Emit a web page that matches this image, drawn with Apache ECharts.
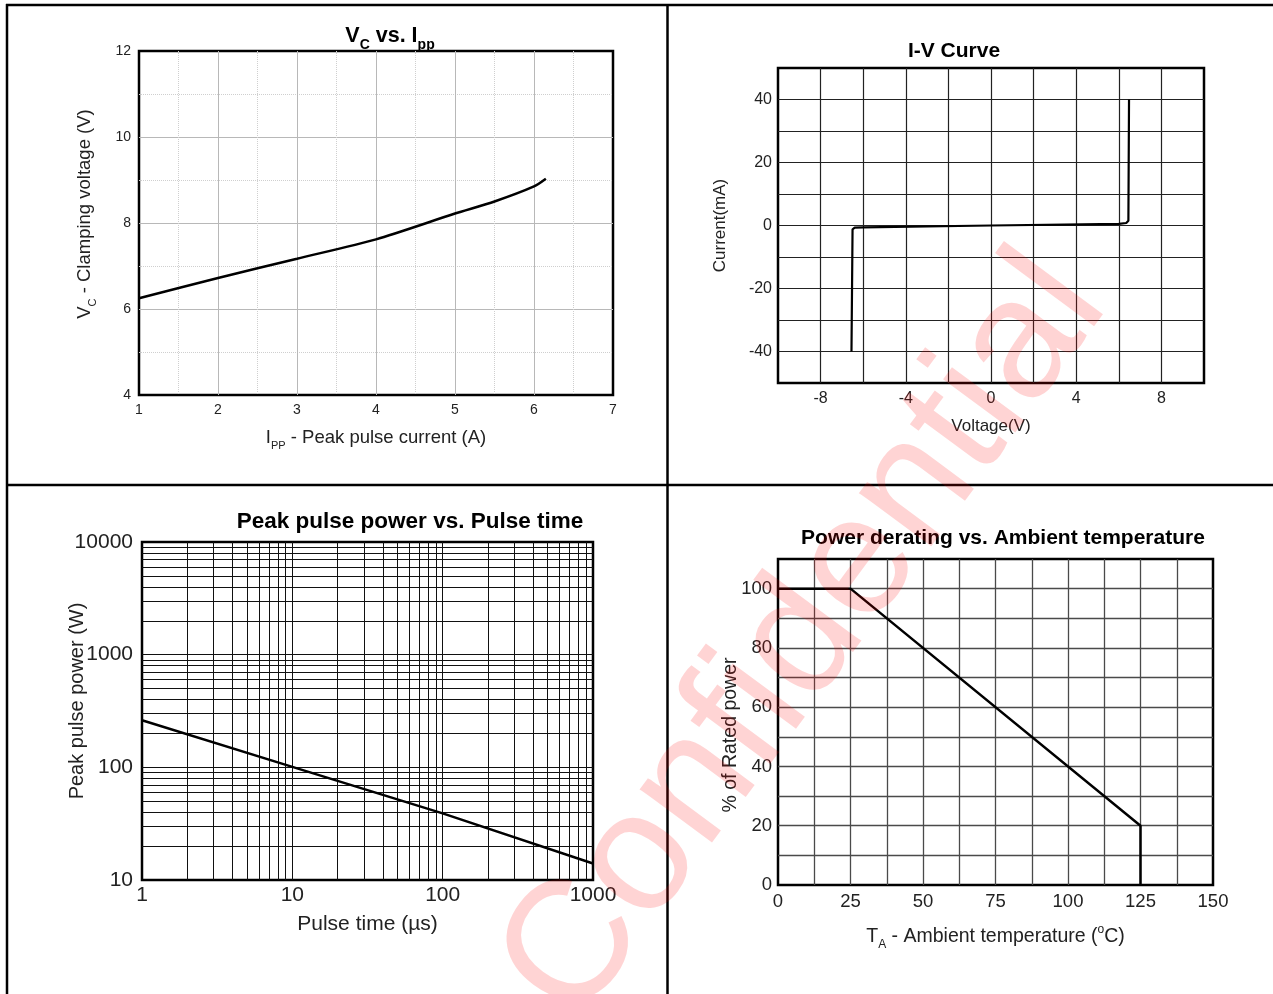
<!DOCTYPE html>
<html>
<head>
<meta charset="utf-8">
<script src="https://cdn.jsdelivr.net/npm/echarts@6/dist/echarts.min.js"></script>
<style>
html,body{margin:0;padding:0;background:#fff;}
#c{width:1273px;height:994px;}
</style>
</head>
<body>
<div id="c"></div>
<script>
// ---- Data ----
// Chart 1: Vc vs Ipp
const vcCurrent = [1, 2, 3, 4, 5, 5.5, 6, 6.15];
const vcVoltage = [6.25, 6.72, 7.17, 7.62, 8.22, 8.5, 8.85, 9.03];
// Chart 2: I-V curve
const ivVoltage = [-6.55, -6.5, -6.4, -6.0, 0, 6.0, 6.35, 6.45, 6.48];
const ivCurrent = [-40, -1.2, -0.7, -0.6, 0, 0.5, 0.8, 1.5, 40];
// Chart 3: Peak pulse power vs pulse time (log-log)
const ppTime = [1, 10, 100, 1000];
const ppPower = [262, 101, 39, 14];
const logMinorTime = [2,3,4,5,6,7,8,9,20,30,40,50,60,70,80,90,200,300,400,500,600,700,800,900];
const logMinorPower = [20,30,40,50,60,70,80,90,200,300,400,500,600,700,800,900,2000,3000,4000,5000,6000,7000,8000,9000];
// Chart 4: Power derating
const derTemp = [0, 25, 125, 125];
const derPower = [100, 100, 20, 0];

const FONT = '"Liberation Sans", Arial, sans-serif';
const zip = (a, b) => a.map((v, i) => [v, b[i]]);

const chart = echarts.init(document.getElementById('c'), null, {renderer: 'canvas'});

function axisBase(extra) {
  return Object.assign({
    type: 'value',
    axisLine: {show: false},
    axisTick: {show: false},
    nameLocation: 'middle',
    nameMoveOverlap: false
  }, extra);
}

const subRich = (fs, sub) => ({
  n: {fontSize: fs, color: '#222', fontFamily: FONT},
  s: {fontSize: sub, color: '#222', fontFamily: FONT, verticalAlign: 'bottom', padding: [0, 0, -4, 0]},
  u: {fontSize: sub, color: '#222', fontFamily: FONT, verticalAlign: 'top', padding: [-3, 0, 0, 0]}
});

const option = {
  animation: false,
  textStyle: {fontFamily: FONT},
  grid: [
    {left: 139, top: 51, width: 474, height: 344, show: true, borderColor: '#000', borderWidth: 2.5, backgroundColor: 'transparent'},
    {left: 778, top: 68, width: 426, height: 315, show: true, borderColor: '#000', borderWidth: 2.5, backgroundColor: 'transparent'},
    {left: 142, top: 542, width: 451, height: 338, show: true, borderColor: '#000', borderWidth: 2.5, backgroundColor: 'transparent'},
    {left: 778, top: 559, width: 435, height: 326, show: true, borderColor: '#000', borderWidth: 2.5, backgroundColor: 'transparent'}
  ],
  xAxis: [
    axisBase({
      gridIndex: 0, min: 1, max: 7, interval: 1,
      axisLabel: {fontSize: 14, color: '#222', margin: 8},
      splitLine: {show: true, showMinLine: false, showMaxLine: false, lineStyle: {color: '#b8b8b8', width: 1}},
      minorTick: {show: false, splitNumber: 2},
      minorSplitLine: {show: true, lineStyle: {color: '#cfcfcf', width: 1, type: 'dotted'}},
      name: '{n|I}{s|PP}{n| - Peak pulse current (A)}', nameGap: 33,
      nameTextStyle: {rich: subRich(18.5, 11)}
    }),
    axisBase({
      gridIndex: 1, min: -10, max: 10, interval: 2,
      axisLabel: {fontSize: 16, color: '#222', margin: 8, formatter: v => (v % 4 === 0 ? String(v) : '')},
      splitLine: {show: true, showMinLine: false, showMaxLine: false, lineStyle: {color: '#222', width: 1.2}},
      name: 'Voltage(V)', nameGap: 35,
      nameTextStyle: {fontSize: 17, color: '#222'}
    }),
    {
      gridIndex: 2, type: 'log', logBase: 10, min: 1, max: 1000,
      axisLine: {show: false}, axisTick: {show: false}, nameLocation: 'middle', nameMoveOverlap: false,
      axisLabel: {fontSize: 21, color: '#222', margin: 5, formatter: v => String(v)},
      splitLine: {show: true, showMinLine: false, showMaxLine: false, lineStyle: {color: '#111', width: 1}},
      name: 'Pulse time (µs)', nameGap: 34,
      nameTextStyle: {fontSize: 21, color: '#222'}
    },
    axisBase({
      gridIndex: 3, min: 0, max: 150, interval: 12.5,
      axisLabel: {fontSize: 18.5, color: '#222', margin: 7, formatter: v => (v % 25 === 0 ? String(v) : '')},
      splitLine: {show: true, showMinLine: false, showMaxLine: false, lineStyle: {color: '#4a4a4a', width: 1.3}},
      name: '{n|T}{s|A}{n| - Ambient temperature (}{u|o}{n|C)}', nameGap: 42,
      nameTextStyle: {rich: subRich(19.5, 12)}
    })
  ],
  yAxis: [
    axisBase({
      gridIndex: 0, min: 4, max: 12, interval: 2,
      axisLabel: {fontSize: 14, color: '#222', margin: 8},
      splitLine: {show: true, showMinLine: false, showMaxLine: false, lineStyle: {color: '#b8b8b8', width: 1}},
      minorTick: {show: false, splitNumber: 2},
      minorSplitLine: {show: true, lineStyle: {color: '#cfcfcf', width: 1, type: 'dotted'}},
      name: '{n|V}{s|C}{n| - Clamping voltage (V)}', nameGap: 45,
      nameTextStyle: {rich: subRich(18.5, 11), padding: [0, 0, 0, 18]}
    }),
    axisBase({
      gridIndex: 1, min: -50, max: 50, interval: 10,
      axisLabel: {fontSize: 16, color: '#222', margin: 6, formatter: v => (v % 20 === 0 ? String(v) : '')},
      splitLine: {show: true, showMinLine: false, showMaxLine: false, lineStyle: {color: '#222', width: 1.2}},
      name: 'Current(mA)', nameGap: 49,
      nameTextStyle: {fontSize: 17, color: '#222'}
    }),
    {
      gridIndex: 2, type: 'log', logBase: 10, min: 10, max: 10000,
      axisLine: {show: false}, axisTick: {show: false}, nameLocation: 'middle', nameMoveOverlap: false,
      axisLabel: {fontSize: 21, color: '#222', margin: 9, formatter: v => String(v)},
      splitLine: {show: true, showMinLine: false, showMaxLine: false, lineStyle: {color: '#111', width: 1}},
      name: 'Peak pulse power (W)', nameGap: 55,
      nameTextStyle: {fontSize: 20, color: '#222', padding: [0, 0, 0, 20]}
    },
    axisBase({
      gridIndex: 3, min: 0, max: 110, interval: 10,
      axisLabel: {fontSize: 18.5, color: '#222', margin: 6, formatter: v => (v % 20 === 0 && v <= 100 ? String(v) : '')},
      splitLine: {show: true, showMinLine: false, showMaxLine: false, lineStyle: {color: '#4a4a4a', width: 1.3}},
      name: '% of Rated power', nameGap: 37,
      nameTextStyle: {fontSize: 19.5, color: '#222', padding: [0, 26, 0, 0]}
    })
  ],
  series: [
    {type: 'line', xAxisIndex: 0, yAxisIndex: 0, data: zip(vcCurrent, vcVoltage), smooth: 0.25, symbol: 'none',
      lineStyle: {color: '#000', width: 2.5}},
    {type: 'line', xAxisIndex: 1, yAxisIndex: 1, data: zip(ivVoltage, ivCurrent), symbol: 'none',
      lineStyle: {color: '#000', width: 2.2}},
    {type: 'line', xAxisIndex: 2, yAxisIndex: 2, data: zip(ppTime, ppPower), symbol: 'none',
      lineStyle: {color: '#000', width: 2.5}, z: 5,
      markLine: {
        silent: true, symbol: ['none', 'none'], label: {show: false},
        lineStyle: {color: '#111', width: 1, type: 'solid'},
        data: logMinorTime.map(v => ({xAxis: v})).concat(logMinorPower.map(v => ({yAxis: v})))
      }},
    {type: 'line', xAxisIndex: 3, yAxisIndex: 3, data: zip(derTemp, derPower), symbol: 'none',
      lineStyle: {color: '#000', width: 2.5}}
  ],
  graphic: [
    // page frame lines
    {type: 'line', shape: {x1: 6, y1: 5, x2: 1273, y2: 5}, style: {stroke: '#000', lineWidth: 2.5}, z: 50},
    {type: 'line', shape: {x1: 7, y1: 4, x2: 7, y2: 994}, style: {stroke: '#000', lineWidth: 2.5}, z: 50},
    {type: 'line', shape: {x1: 667.5, y1: 4, x2: 667.5, y2: 994}, style: {stroke: '#000', lineWidth: 2.5}, z: 50},
    {type: 'line', shape: {x1: 6, y1: 485, x2: 1273, y2: 485}, style: {stroke: '#000', lineWidth: 2.5}, z: 50},
    // titles
    {type: 'text', x: 390, y: 36, z: 50, style: {
      text: '{b|V}{bs|C}{b| vs. I}{bs|pp}', align: 'center', verticalAlign: 'middle',
      rich: {b: {fontSize: 21.5, fontWeight: 'bold', fill: '#000', fontFamily: FONT},
             bs: {fontSize: 14, fontWeight: 'bold', fill: '#000', fontFamily: FONT, verticalAlign: 'bottom', padding: [0, 0, -5, 0]}}}},
    {type: 'text', x: 954, y: 51, z: 50, style: {text: 'I-V Curve', align: 'center', verticalAlign: 'middle',
      fontSize: 21, fontWeight: 'bold', fill: '#000', fontFamily: FONT}},
    {type: 'text', x: 410, y: 522, z: 50, style: {text: 'Peak pulse power vs. Pulse time', align: 'center', verticalAlign: 'middle',
      fontSize: 22.5, fontWeight: 'bold', fill: '#000', fontFamily: FONT}},
    {type: 'text', x: 1003, y: 538, z: 50, style: {text: 'Power derating vs. Ambient temperature', align: 'center', verticalAlign: 'middle',
      fontSize: 21, fontWeight: 'bold', fill: '#000', fontFamily: FONT}},
    // watermark
    {type: 'text', x: 805, y: 638, rotation: 53.5 * Math.PI / 180, z: 100, silent: true, style: {
      text: 'Confidential', align: 'center', verticalAlign: 'middle',
      fontSize: 170, fill: 'rgba(255,0,0,0.17)', fontFamily: FONT}}
  ]
};
chart.setOption(option);
</script>
</body>
</html>
